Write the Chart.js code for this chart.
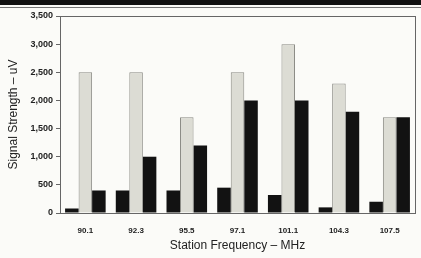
<!DOCTYPE html>
<html lang="en">
  <head>
    <meta charset="UTF-8" />
    <title>Signal Strength</title>
    <script src="https://cdn.jsdelivr.net/npm/chart.js@4.5.0/dist/chart.umd.min.js"></script>
    <style>
      html, body { margin: 0; padding: 0; background: #fbfbf8; }
      #wrap { position: relative; width: 421px; height: 258px; }
      #band { position: absolute; left: 0; top: 0; width: 421px; height: 5px; background: #111; }
      #thin { position: absolute; left: 0; top: 7px; width: 421px; height: 1px; background: #777; }
    </style>
  </head>
  <body>
    <div id="wrap">
      <canvas id="myChart" width="421" height="258"></canvas>
      <div id="band"></div>
      <div id="thin"></div>
    </div>

    <script>
      const stations = ["90.1", "92.3", "95.5", "97.1", "101.1", "104.3", "107.5"];
      const seriesA = [80, 400, 400, 450, 320, 100, 200];
      const seriesB = [2500, 2500, 1700, 2500, 3000, 2300, 1700];
      const seriesC = [400, 1000, 1200, 2000, 2000, 1800, 1700];

      // box around the plot area (top + right sides)
      const frame = {
        id: "frame",
        afterDraw(chart) {
          const { ctx, chartArea: a } = chart;
          ctx.save();
          ctx.strokeStyle = "#666";
          ctx.lineWidth = 1;
          ctx.strokeRect(a.left + 0.5, a.top + 0.5, a.right - a.left, a.bottom - a.top);
          ctx.restore();
        },
      };

      const ctx = document.getElementById("myChart");
      new Chart(ctx, {
        type: "bar",
        data: {
          labels: stations,
          datasets: [
            { data: seriesA, backgroundColor: "#121212", borderWidth: 0 },
            { data: seriesB, backgroundColor: "#dcdcd4", borderColor: "#8a8a84", borderWidth: 1 },
            { data: seriesC, backgroundColor: "#121212", borderWidth: 0 },
          ],
        },
        options: {
          responsive: false,
          animation: false,
          layout: { padding: { left: 6, right: 6, top: 16, bottom: 0 } },
          plugins: { legend: { display: false }, tooltip: { enabled: false } },
          datasets: { bar: { barPercentage: 1, categoryPercentage: 0.8 } },
          scales: {
            x: {
              afterFit(scale) { scale.height = 45; },
              grid: { display: false },
              border: { display: true, color: "#666" },
              ticks: { color: "#222", font: { family: "Arial", size: 8, weight: "bold" }, padding: 5 },
              title: {
                display: true,
                text: "Station Frequency \u2013 MHz",
                color: "#222",
                font: { family: "Arial", size: 12 },
                padding: { top: 6, bottom: 5 },
              },
            },
            y: {
              min: 0,
              max: 3500,
              afterFit(scale) { scale.width = 54; },
              grid: { drawOnChartArea: false, drawTicks: true, tickLength: 4, color: "#666" },
              border: { display: true, color: "#666" },
              ticks: {
                stepSize: 500,
                color: "#222",
                font: { family: "Arial", size: 9, weight: "bold" },
                padding: 3,
                callback: (v) => v.toLocaleString("en-US"),
              },
              title: {
                display: true,
                text: "Signal Strength \u2013 uV",
                color: "#222",
                font: { family: "Arial", size: 12 },
                padding: { top: 0, bottom: 4 },
              },
            },
          },
        },
        plugins: [frame],
      });
    </script>
  </body>
</html>
